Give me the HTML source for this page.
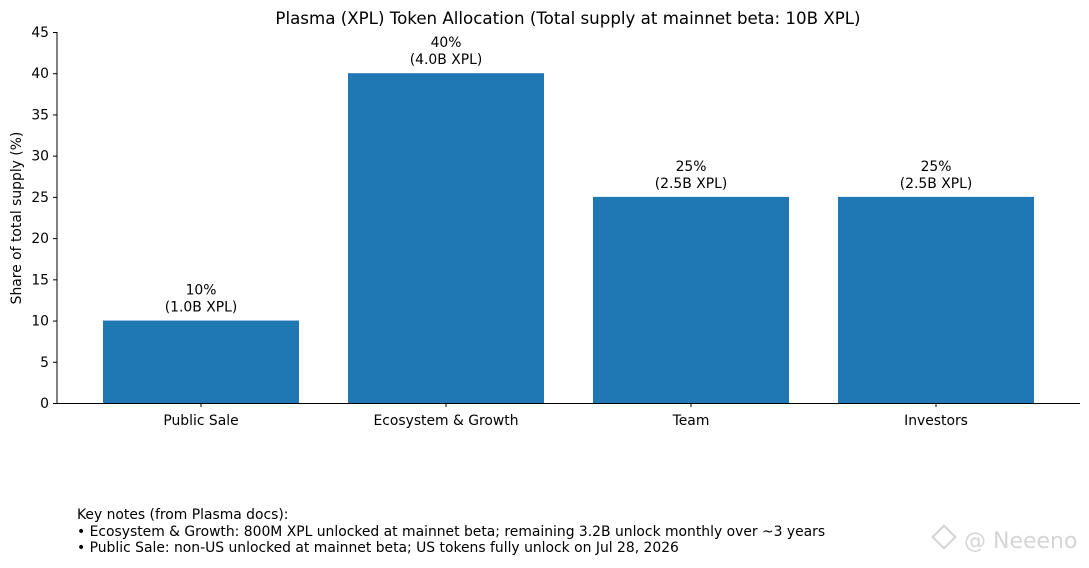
<!DOCTYPE html>
<html><head><meta charset="utf-8"><style>
body{margin:0;background:#fff;width:1089px;height:564px;overflow:hidden;font-family:"DejaVu Sans","Liberation Sans",sans-serif;}
svg text{font-family:"DejaVu Sans","Liberation Sans",sans-serif;}
</style></head><body>
<svg id="chart" width="1089" height="564">
<text x="568" y="24" font-size="16.67" text-anchor="middle">Plasma (XPL) Token Allocation (Total supply at mainnet beta: 10B XPL)</text>
<text transform="translate(21,218) rotate(-90)" font-size="13.9" text-anchor="middle">Share of total supply (%)</text>
<g id="yticks"></g>
<g id="bars"></g>
<line x1="57" y1="32" x2="57" y2="403.5" stroke="#000" stroke-width="1"/>
<line x1="56.5" y1="403.5" x2="1080" y2="403.5" stroke="#000" stroke-width="1"/>
<g font-size="13.9">
<text x="77" y="519">Key notes (from Plasma docs):</text>
<text x="77" y="536">• Ecosystem &amp; Growth: 800M XPL unlocked at mainnet beta; remaining 3.2B unlock monthly over ~3 years</text>
<text x="77" y="552">• Public Sale: non-US unlocked at mainnet beta; US tokens fully unlock on Jul 28, 2026</text>
</g>
<g opacity="0.35">
<rect x="936" y="529" width="16" height="16" transform="rotate(45 944 537)" fill="none" stroke="#888" stroke-width="2"/>
<text x="964" y="548" font-size="22" fill="#888">@ Neeeno</text>
</g>
</svg>
<script>
const categories=["Public Sale","Ecosystem & Growth","Team","Investors"];
const values=[10,40,25,25];
const amounts=["1.0B XPL","4.0B XPL","2.5B XPL","2.5B XPL"];
const yTicks=[0,5,10,15,20,25,30,35,40,45];
const NS="http://www.w3.org/2000/svg";
const y0=403,y45=32,xL=57,step=245,first=201,bw=196;
const y=v=>y0-(v/45)*(y0-y45);
const x=i=>first+i*step;
const FS='13.9';
const yt=document.getElementById('yticks');
yTicks.forEach(t=>{
 const l=document.createElementNS(NS,'line');
 l.setAttribute('x1',xL-4);l.setAttribute('x2',xL);l.setAttribute('y1',y(t)+0.5);l.setAttribute('y2',y(t)+0.5);l.setAttribute('stroke','#000');
 
 
 yt.appendChild(l);
 const tx=document.createElementNS(NS,'text');
 tx.setAttribute('x',xL-8);tx.setAttribute('y',y(t)+5);tx.setAttribute('font-size',FS);tx.setAttribute('text-anchor','end');
 tx.textContent=t;
 
 
 yt.appendChild(tx);
});
const g=document.getElementById('bars');
categories.forEach((c,i)=>{
 const r=document.createElementNS(NS,'rect');
 r.setAttribute('x',x(i)-bw/2);r.setAttribute('width',bw);r.setAttribute('y',y(values[i]));r.setAttribute('height',y0-y(values[i]));r.setAttribute('fill','#1f77b4');
 
 
 g.appendChild(r);
 const tk=document.createElementNS(NS,'line');
 tk.setAttribute('x1',x(i));tk.setAttribute('x2',x(i));tk.setAttribute('y1',403);tk.setAttribute('y2',407);tk.setAttribute('stroke','#000');
 
 
 g.appendChild(tk);
 const lb=document.createElementNS(NS,'text');
 lb.setAttribute('x',x(i));lb.setAttribute('y',425);lb.setAttribute('font-size',FS);lb.setAttribute('text-anchor','middle');
 lb.textContent=c;
 
 
 g.appendChild(lb);
 const v1=document.createElementNS(NS,'text');
 v1.setAttribute('x',x(i));v1.setAttribute('y',y(values[i])-26);v1.setAttribute('font-size',FS);v1.setAttribute('text-anchor','middle');
 v1.textContent=values[i]+'%';
 
 
 g.appendChild(v1);
 const v2=document.createElementNS(NS,'text');
 v2.setAttribute('x',x(i));v2.setAttribute('y',y(values[i])-9);v2.setAttribute('font-size',FS);v2.setAttribute('text-anchor','middle');
 v2.textContent='('+amounts[i]+')';
 
 
 g.appendChild(v2);
});
</script>
</body></html>
